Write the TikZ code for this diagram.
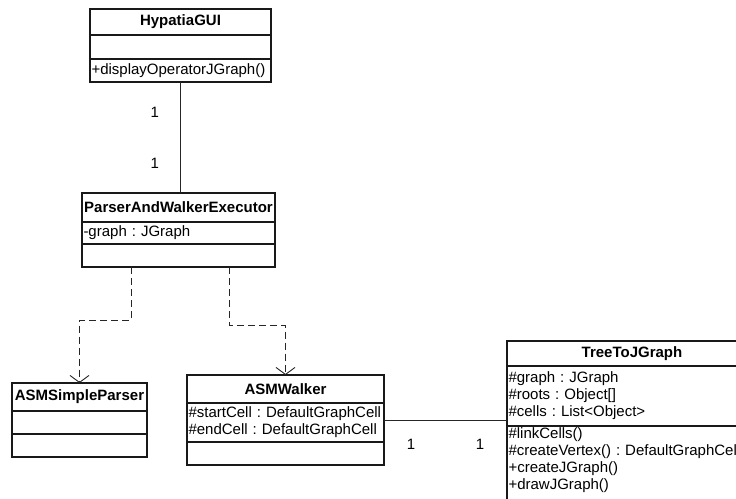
\documentclass[tikz,border=0pt]{standalone}
\usepackage{fontspec}
\setmainfont{Liberation Sans}
\usetikzlibrary{arrows.meta}
\newcommand{\umlfont}{\fontsize{15}{17}\selectfont\frenchspacing\hyphenpenalty=10000}
\tikzset{
  uml/.style={draw=black!90, line width=1.1pt, anchor=north west, outer sep=0pt,
    inner xsep=1.5pt, inner ysep=2pt, align=left, font=\umlfont},
  umlhead/.style={uml, align=center, font=\umlfont\bfseries},
  dep/.style={draw=black!85, line width=0.9pt, dash pattern=on 7pt off 4pt,
    -{Straight Barb[length=7pt,width=19pt]}},
  assoc/.style={draw=black!85, line width=0.9pt},
  mult/.style={inner sep=0pt, font=\umlfont},
}
\begin{document}
\begin{tikzpicture}[x=1pt, y=-1pt]
        \useasboundingbox (0,0) rectangle (736,498);
        \clip (0,0) rectangle (736,498);

        % HypatiaGUI
        \node[umlhead, text width=178pt, minimum height=26pt] (gui) at (90,9) {HypatiaGUI};
        \node[uml, text width=178pt, minimum height=24pt] (gui-a) at (gui.south west) {};
        \node[uml, text width=178pt, minimum height=23pt] (gui-o) at (gui-a.south west) {+displayOperatorJGraph()};

        % ParserAndWalkerExecutor
        \node[umlhead, text width=190pt, minimum height=29pt] (pawe) at (82,193) {ParserAndWalkerExecutor};
        \node[uml, text width=190pt, minimum height=22pt] (pawe-a) at (pawe.south west) {-graph : JGraph};
        \node[uml, text width=190pt, minimum height=23pt] (pawe-o) at (pawe-a.south west) {};

        % ASMSimpleParser
        \node[umlhead, text width=132pt, minimum height=28pt] (parser) at (12,383) {ASMSimpleParser};
        \node[uml, text width=132pt, minimum height=23pt] (parser-a) at (parser.south west) {};
        \node[uml, text width=132pt, minimum height=23pt] (parser-o) at (parser-a.south west) {};

        % ASMWalker
        \node[umlhead, text width=194pt, minimum height=28pt] (walker) at (187,375) {ASMWalker};
        \node[uml, text width=194pt, minimum height=39pt] (walker-a) at (walker.south west)
            {\#startCell : DefaultGraphCell\\\#endCell : DefaultGraphCell};
        \node[uml, text width=194pt, minimum height=23pt] (walker-o) at (walker-a.south west) {};

        % TreeToJGraph (runs past the right and bottom edge)
        \node[umlhead, text width=247pt, minimum height=25pt] (tree) at (507,341) {TreeToJGraph};
        \node[uml, text width=247pt, minimum height=60pt] (tree-a) at (tree.south west)
            {\#graph : JGraph\\\#roots : Object[]\\\#cells : List<Object>};
        \node[uml, text width=247pt] (tree-o) at (tree-a.south west)
            {\#linkCells()\\\#createVertex() : DefaultGraphCell\\+createJGraph()\\+drawJGraph()\rule[-12pt]{0pt}{12pt}};

        % associations
        \draw[assoc] (gui-o.south) --
            node[mult, pos=0.27, left=21pt] (gui-m) {1}
            node[mult, pos=0.73, left=21pt] (pawe-m) {1}
            (gui-o.south |- pawe.north);
        \draw[assoc] ([yshift=2.5pt]walker-a.east) --
            node[mult, pos=0.22, below=19pt] (walker-m) {1}
            node[mult, pos=0.78, below=19pt] (tree-m) {1}
            ([yshift=2.5pt]walker-a.east -| tree-a.west);

        % dependencies
        \draw[dep] ([xshift=49pt]pawe-o.south west) -- ++(0,53) -| (parser.north);
        \draw[dep] ([xshift=147pt]pawe-o.south west) -- ++(0,58) -| (walker.north);
    \end{tikzpicture}
\end{document}
